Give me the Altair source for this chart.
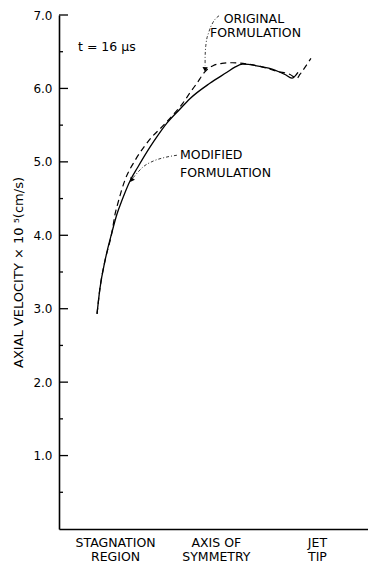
import altair as alt
import pandas as pd

# ---- data (position along jet: arbitrary units; velocity in 1e5 cm/s) ----
mod_pos = [1.20, 1.29, 1.45, 1.67, 1.83, 1.99, 2.24, 2.49, 2.87, 3.12, 3.41, 3.82,
           4.13, 4.76, 5.30, 5.55, 5.80, 6.34, 6.81, 7.13, 7.35, 7.54]
mod_vel = [2.93, 3.27, 3.65, 4.04, 4.29, 4.48, 4.74, 4.93, 5.20, 5.36, 5.53, 5.72,
           5.86, 6.07, 6.22, 6.29, 6.33, 6.30, 6.25, 6.19, 6.14, 6.22]

orig_pos = [1.20, 1.29, 1.45, 1.67, 1.77, 1.86, 2.08, 2.40, 2.71, 2.93, 3.19, 3.41,
            3.66, 3.91, 4.13, 4.35, 4.61, 4.86, 5.14, 5.46, 5.80, 6.34, 6.91, 7.29,
            7.51, 7.60, 7.95]
orig_vel = [2.93, 3.27, 3.65, 4.04, 4.29, 4.44, 4.75, 5.02, 5.22, 5.34, 5.45, 5.55,
            5.67, 5.80, 5.94, 6.07, 6.23, 6.31, 6.34, 6.35, 6.34, 6.30, 6.23, 6.19,
            6.14, 6.19, 6.41]

y_major = [1.0, 2.0, 3.0, 4.0, 5.0, 6.0, 7.0]
y_minor = [0.5, 1.5, 2.5, 3.5, 4.5, 5.5, 6.5]

x_label_pos = [1.77, 4.95, 8.14]
x_label_lines = [["STAGNATION", "REGION"], ["AXIS OF", "SYMMETRY"], ["JET", "TIP"]]

y_title = "AXIAL  VELOCITY  ×  10 ⁵(cm/s)"

# annotation texts
note_text = ["t = 16 μs", "ORIGINAL", "FORMULATION", "MODIFIED", "FORMULATION"]
note_pos = [0.60, 6.15, 6.20, 3.82, 3.82]
note_vel = [6.57, 6.95, 6.75, 5.09, 4.85]
note_align = ["left", "center", "center", "left", "left"]

# leader lines (callouts)
lead_orig_pos = [5.05, 4.86, 4.73, 4.64, 4.61, 4.61]
lead_orig_vel = [6.99, 6.90, 6.77, 6.61, 6.43, 6.31]
lead_mod_pos = [3.72, 3.34, 2.97, 2.65, 2.43, 2.33]
lead_mod_vel = [5.09, 5.06, 5.01, 4.93, 4.83, 4.78]
arrow_pos = [4.61, 2.30]
arrow_vel = [6.27, 4.76]
arrow_angle = [182, 215]

FONT = "DejaVu Sans"
W, H = 309, 514

xs = alt.Scale(domain=[0, 9.75], nice=False, zero=False)
ys = alt.Scale(domain=[0, 7], nice=False)

df_mod = pd.DataFrame({"pos": mod_pos, "vel": mod_vel})
df_orig = pd.DataFrame({"pos": orig_pos, "vel": orig_vel})

label_expr = " : ".join(
    f"datum.value < {p + 0.5} ? {l!r}" for p, l in zip(x_label_pos[:-1], x_label_lines[:-1])
) + f" : {x_label_lines[-1]!r}"

x_axis = alt.Axis(title=None, values=x_label_pos, labelExpr=label_expr, ticks=False, tickSize=0,
                  grid=False, domainColor="black", domainWidth=1.6, labelFont=FONT,
                  labelFontSize=12.5, labelColor="black", labelPadding=7, labelLineHeight=14,
                  labelBaseline="top", labelFlush=False, labelOverlap=False)
y_axis = alt.Axis(title=y_title, values=y_major, format=".1f", ticks=False, tickSize=0,
                  grid=False, domainColor="black", domainWidth=1.6, labelFont=FONT,
                  labelFontSize=12, labelColor="black", labelPadding=7,
                  titleFont=FONT, titleFontSize=13, titleFontWeight="normal",
                  titleColor="black", titlePadding=7)

X = alt.X("pos:Q", scale=xs, axis=x_axis)
Y = alt.Y("vel:Q", scale=ys, axis=y_axis)

solid = alt.Chart(df_mod).mark_line(color="black", strokeWidth=1.3, interpolate="monotone").encode(
    x=X, y=Y)
dashed = alt.Chart(df_orig).mark_line(color="black", strokeWidth=1.2, strokeDash=[6, 4],
                                      interpolate="monotone").encode(x=X, y=Y)

ticks_major = alt.Chart(pd.DataFrame({"vel": y_major})).mark_rule(color="black", strokeWidth=1.3).encode(
    y=Y, x=alt.value(0), x2=alt.value(9))
ticks_minor = alt.Chart(pd.DataFrame({"vel": y_minor})).mark_rule(color="black", strokeWidth=1.3).encode(
    y=Y, x=alt.value(0), x2=alt.value(4))

df_notes = pd.DataFrame({"pos": note_pos, "vel": note_vel, "txt": note_text, "al": note_align})
notes_left = alt.Chart(df_notes[df_notes.al == "left"]).mark_text(
    align="left", baseline="middle", font=FONT, fontSize=12.5, color="black").encode(
    x=X, y=Y, text="txt:N")
notes_center = alt.Chart(df_notes[df_notes.al == "center"]).mark_text(
    align="center", baseline="middle", font=FONT, fontSize=12.5, color="black").encode(
    x=X, y=Y, text="txt:N")

df_lead = pd.DataFrame({
    "pos": lead_orig_pos + lead_mod_pos,
    "vel": lead_orig_vel + lead_mod_vel,
    "grp": ["o"] * len(lead_orig_pos) + ["m"] * len(lead_mod_pos),
    "ord": list(range(len(lead_orig_pos))) + list(range(len(lead_mod_pos))),
})
leaders = alt.Chart(df_lead).mark_line(color="black", strokeWidth=0.8, strokeDash=[3, 2, 1, 2],
                                       interpolate="monotone").encode(
    x=X, y=Y, detail="grp:N", order="ord:Q")

df_arrow = pd.DataFrame({"pos": arrow_pos, "vel": arrow_vel, "ang": arrow_angle})
arrows = alt.Chart(df_arrow).mark_point(shape="triangle", filled=True, color="black", size=28, opacity=1).encode(
    x=X, y=Y, angle=alt.Angle("ang:Q", scale=None))

chart = alt.layer(solid, dashed, ticks_major, ticks_minor, leaders, arrows, notes_left, notes_center).properties(
    width=W, height=H,
    autosize=alt.AutoSizeParams(type="none"),
    padding={"left": 51, "top": 7, "right": 0, "bottom": 36},
).configure_view(stroke=None)

chart.save("out.html", embed_options={"renderer": "svg", "actions": False})
